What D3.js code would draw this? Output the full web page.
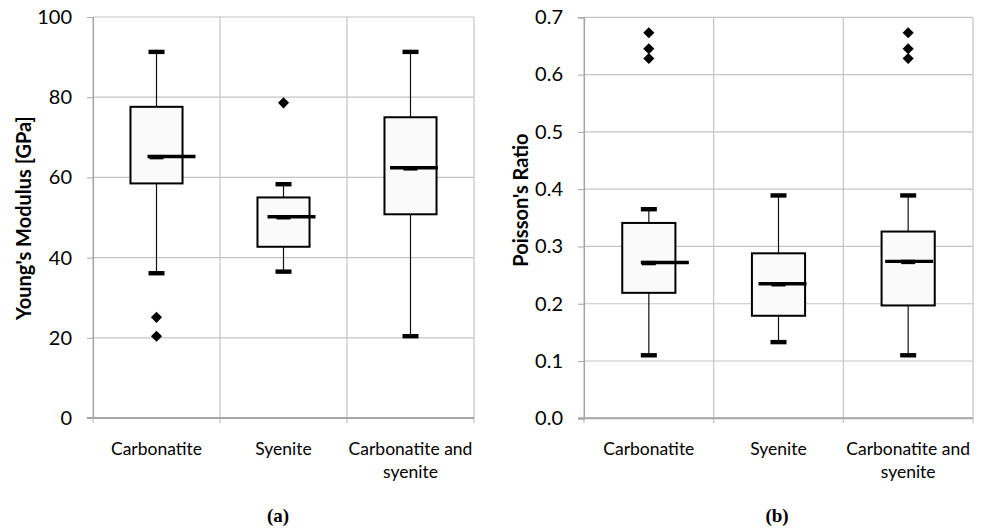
<!DOCTYPE html>
<html>
<head>
<meta charset="utf-8">
<script src="https://cdn.jsdelivr.net/npm/d3@7"></script>
<style>
  body { margin: 0; background: #fff; }
  svg { display: block; }
</style>
</head>
<body>
<svg id="chart" width="987" height="530" font-family="Lato, 'Open Sans', sans-serif"></svg>
<script>
const categories = ["Carbonatite", "Syenite", "Carbonatite and syenite"];

// Young's modulus [GPa]: lower whisker, Q1, median, Q3, upper whisker
const youngLow    = [36.1, 36.5, 20.4];
const youngQ1     = [58.5, 42.7, 50.8];
const youngMedian = [65.2, 50.2, 62.4];
const youngQ3     = [77.6, 55.0, 75.0];
const youngHigh   = [91.3, 58.3, 91.3];
const youngOutliers = [[25.1, 20.4], [78.6], []];
const youngTicks = [0, 20, 40, 60, 80, 100];

// Poisson's ratio
const poissonLow    = [0.110, 0.133, 0.110];
const poissonQ1     = [0.219, 0.179, 0.197];
const poissonMedian = [0.272, 0.235, 0.274];
const poissonQ3     = [0.341, 0.288, 0.326];
const poissonHigh   = [0.365, 0.389, 0.389];
const poissonOutliers = [[0.673, 0.645, 0.628], [], [0.673, 0.645, 0.628]];
const poissonTicks = [0, 0.1, 0.2, 0.3, 0.4, 0.5, 0.6, 0.7];

const svg = d3.select("#chart");
const gridColor = "#c4c4c4";
const axisColor = "#a6a6a6";

function drawPanel(opt) {
  const x = d3.scaleBand().domain(categories).range([opt.left, opt.right]).padding(0);
  const y = d3.scaleLinear().domain([0, opt.max]).range([opt.bottom, opt.top]);
  const g = svg.append("g");
  const bw = x.bandwidth();

  // horizontal gridlines
  g.selectAll(".hgrid").data(opt.ticks).join("line")
    .attr("x1", opt.left).attr("x2", opt.right)
    .attr("y1", d => y(d)).attr("y2", d => y(d))
    .attr("stroke", gridColor).attr("stroke-width", 1.2);

  // vertical gridlines at category boundaries
  const bounds = categories.map(c => x(c)).concat([opt.right]);
  g.selectAll(".vgrid").data(bounds).join("line")
    .attr("x1", d => d).attr("x2", d => d)
    .attr("y1", opt.top).attr("y2", opt.bottom + 5)
    .attr("stroke", gridColor).attr("stroke-width", 1.2);

  // y axis
  const yAxis = d3.axisLeft(y).tickValues(opt.ticks).tickFormat(opt.fmt).tickSize(6).tickPadding(15);
  const ya = g.append("g").attr("transform", `translate(${opt.left},0)`).call(yAxis);
  ya.attr("font-family", null);
  ya.select(".domain").attr("stroke", axisColor).attr("stroke-width", 1.2);
  ya.selectAll(".tick line").attr("stroke", axisColor);
  ya.selectAll(".tick text").attr("font-size", 20).attr("fill", "#000");

  // bottom axis line
  g.append("line")
    .attr("x1", opt.left - 6).attr("x2", opt.right)
    .attr("y1", opt.bottom).attr("y2", opt.bottom)
    .attr("stroke", axisColor).attr("stroke-width", 2);

  // category labels
  categories.forEach(c => {
    const cx = x(c) + bw / 2;
    const t = g.append("text").attr("text-anchor", "middle").attr("font-size", 17.5);
    const lines = c === "Carbonatite and syenite" ? ["Carbonatite and", "syenite"] : [c];
    lines.forEach((l, i) => {
      t.append("tspan").attr("x", cx).attr("y", opt.bottom + 37 + i * 23).text(l);
    });
  });

  // y title
  g.append("text")
    .attr("transform", `translate(${opt.titleX},${opt.titleY}) rotate(-90)`)
    .attr("text-anchor", "middle")
    .attr("font-weight", "bold")
    .attr("font-size", 20)
    .text(opt.title);

  // panel label
  g.append("text")
    .attr("x", opt.labelX).attr("y", 522)
    .attr("text-anchor", "middle")
    .attr("font-family", "'Liberation Serif', serif")
    .attr("font-weight", "bold")
    .attr("font-size", 19)
    .text(opt.label);

  const boxW = bw * 0.41;
  const capW = 16;
  categories.forEach((c, i) => {
    const cx = x(c) + bw / 2;
    // whiskers
    g.append("line").attr("x1", cx).attr("x2", cx)
      .attr("y1", y(opt.high[i])).attr("y2", y(opt.q3[i]))
      .attr("stroke", "#111").attr("stroke-width", 1.2);
    g.append("line").attr("x1", cx).attr("x2", cx)
      .attr("y1", y(opt.q1[i])).attr("y2", y(opt.low[i]))
      .attr("stroke", "#111").attr("stroke-width", 1.2);
    // caps
    [opt.low[i], opt.high[i]].forEach(v => {
      g.append("rect").attr("x", cx - capW / 2).attr("y", y(v) - 2.2)
        .attr("width", capW).attr("height", 4.4).attr("fill", "#000");
    });
    // box
    g.append("rect")
      .attr("x", cx - boxW / 2).attr("y", y(opt.q3[i]))
      .attr("width", boxW).attr("height", y(opt.q1[i]) - y(opt.q3[i]))
      .attr("fill", "#fafafa").attr("stroke", "#000").attr("stroke-width", 2);
    // median marker + line
    const my = y(opt.median[i]);
    g.append("rect").attr("x", cx - 7).attr("y", my - 1.6)
      .attr("width", 14).attr("height", 4.4).attr("fill", "#000");
    const s = opt.medianShift[i];
    g.append("line")
      .attr("x1", cx + s - 24).attr("x2", cx + s + 24)
      .attr("y1", my).attr("y2", my)
      .attr("stroke", "#000").attr("stroke-width", 3.4);
    // outliers
    opt.outliers[i].forEach(v => {
      g.append("path")
        .attr("d", d3.symbol(d3.symbolSquare, 62)())
        .attr("transform", `translate(${cx},${y(v)}) rotate(45)`)
        .attr("fill", "#000");
    });
  });
}

drawPanel({
  left: 93, right: 474, top: 17, bottom: 418, max: 100,
  ticks: youngTicks, fmt: d3.format("d"),
  low: youngLow, q1: youngQ1, median: youngMedian, q3: youngQ3, high: youngHigh,
  outliers: youngOutliers, medianShift: [15, 8, 3.5],
  title: "Young's Modulus [GPa]", titleX: 31, titleY: 218,
  label: "(a)", labelX: 278
});

drawPanel({
  left: 584, right: 973, top: 17.3, bottom: 418.3, max: 0.7,
  ticks: poissonTicks, fmt: d3.format(".1f"),
  low: poissonLow, q1: poissonQ1, median: poissonMedian, q3: poissonQ3, high: poissonHigh,
  outliers: poissonOutliers, medianShift: [16, 4, 1],
  title: "Poisson's Ratio", titleX: 528, titleY: 200,
  label: "(b)", labelX: 777
});
</script>
</body>
</html>
